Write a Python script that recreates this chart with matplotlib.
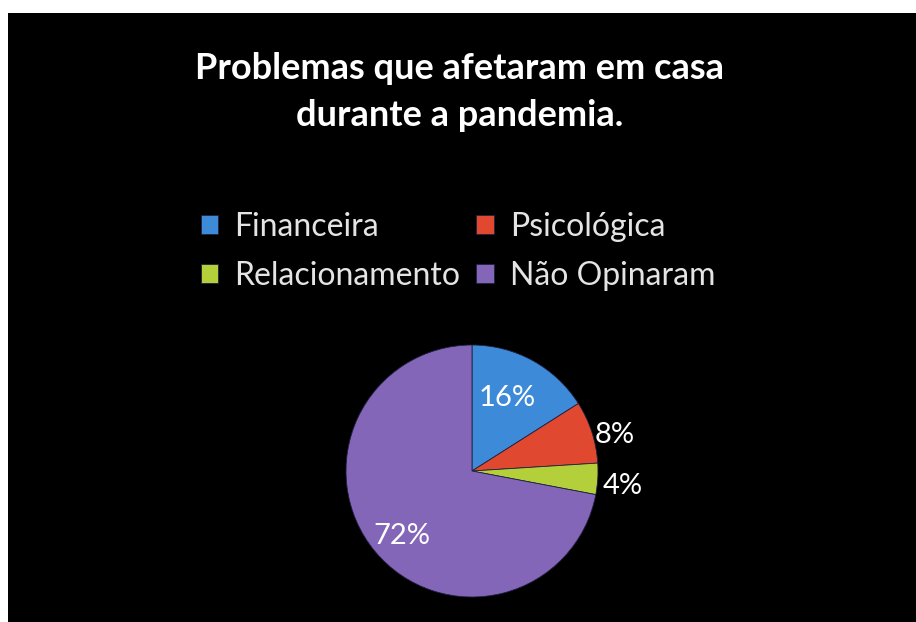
import numpy as np
import matplotlib.pyplot as plt
from matplotlib.patches import Rectangle

categories = ['Financeira', 'Psicológica', 'Relacionamento', 'Não Opinaram']
values = [16, 8, 4, 72]
colors = ['#3D8AD9', '#E0492F', '#B3CF3A', '#8466B8']
title = 'Problemas que afetaram em casa\ndurante a pandemia.'

W, H = 916, 622
fig = plt.figure(figsize=(W / 100, H / 100), dpi=100)
fig.patch.set_facecolor('white')
# black slide background
fig.add_artist(Rectangle((8 / W, 0), 1 - 8 / W, (H - 13) / H, transform=fig.transFigure,
                         facecolor='black', edgecolor='none', zorder=0))

fig.text(460 / W, 1 - 92 / H, title, ha='center', va='center', color='white',
         fontsize=26, fontweight='bold', family='Lato', linespacing=1.55)

# pie
cx, cy, r = 472, 471, 126
ax = fig.add_axes([(cx - r) / W, (H - cy - r) / H, 2 * r / W, 2 * r / H])
ax.set_facecolor('none')
wedges, _ = ax.pie(values, colors=colors, startangle=90, counterclock=False, radius=1,
                   wedgeprops=dict(edgecolor='#202040', linewidth=0.6))
ax.set_xlim(-1, 1)
ax.set_ylim(-1, 1)
ax.set_aspect('equal')
ax.axis('off')

label_dist = [0.64, 1.17, 1.2, 0.76]
label_rot = [3, -4, -2, 3]  # small angular nudge, degrees
for w, v, d, a in zip(wedges, values, label_dist, label_rot):
    ang = np.deg2rad((w.theta1 + w.theta2) / 2 + a)
    ax.text(d * np.cos(ang), d * np.sin(ang), f'{v}%', ha='center', va='center',
            color='white', fontsize=21, family='Lato', clip_on=False)

# legend, filled row by row
order = [0, 2, 1, 3]
leg = fig.legend([wedges[i] for i in order], [categories[i] for i in order],
                 loc='upper left', bbox_to_anchor=(172 / W, 1 - 183 / H),
                 ncol=2, frameon=False,
                 prop={'family': 'Lato', 'size': 23},
                 handlelength=0.55, handleheight=0.55, handletextpad=0.5,
                 columnspacing=0.5, labelspacing=0.6)
for t in leg.get_texts():
    t.set_color('#e4e4e4')

fig.savefig('out.png', dpi=100, facecolor=fig.get_facecolor())
